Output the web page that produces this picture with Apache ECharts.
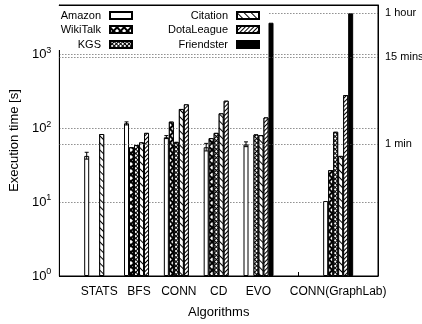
<!DOCTYPE html>
<html>
<head>
<meta charset="utf-8">
<script src="https://cdn.jsdelivr.net/npm/echarts@6/dist/echarts.min.js"></script>
<style>
  html, body { margin: 0; padding: 0; background: #fff; }
  #chart { width: 422px; height: 324px; }
</style>
</head>
<body>
<div id="chart"></div>
<script>
// categories (the blank one is the empty slot before GraphLab)
const algorithms = ['STATS', 'BFS', 'CONN', 'CD', 'EVO', '', 'CONN(GraphLab)'];

// execution time in seconds, per dataset
const amazon     = [42, 116, 75, 55, 60, null, 10.3];
const wikiTalk   = [null, 55, 122, 73, null, null, 27];
const kgs        = [null, 59, 65, 86, 82, null, 89];
const citation   = [83, 64, 181, 158, 80, null, 42];
const dotaLeague = [null, 86, 209, 234, 139, null, 279];
const friendster = [null, null, null, null, 2650, null, 3550];

// error bars for Amazon (low / high)
const amazonLow  = [38, 110, 72, 49, 56, null, null];
const amazonHigh = [47, 121, 79, 62, 65, null, null];

// right-hand reference lines
const timeMarks  = [60, 900, 3600];
const timeLabels = ['1 min', '15 mins', '1 hour'];

const yMin = 1;
const yMax = 4600;

const chart = echarts.init(document.getElementById('chart'));

// pad one empty slot on each side so ticks sit 40px apart across the frame
const cats = [''].concat(algorithms, ['']);
const pad = arr => [null].concat(arr, [null]);

const FONT = 'Liberation Sans, Arial, sans-serif';
const BAR_W = 5;

const gridDecal = (cell, line) => ({
    symbol: 'rect',
    color: '#000',
    backgroundColor: '#fff',
    rotation: Math.PI / 4,
    dashArrayX: [[cell, 0], [line, cell - line]],
    dashArrayY: [line, 0, cell - line, 0]
});

const lineDecal = (gap, width, rot) => ({
    symbol: 'rect',
    color: '#000',
    backgroundColor: '#fff',
    rotation: rot,
    dashArrayX: [1, 0],
    dashArrayY: [width, gap]
});

const seriesDefs = [
    { name: 'Amazon', data: amazon, decal: null, color: '#fff' },
    { name: 'WikiTalk', data: wikiTalk, decal: gridDecal(5, 2), color: '#fff' },
    { name: 'KGS', data: kgs, decal: gridDecal(3, 1), color: '#fff' },
    { name: 'Citation', data: citation, decal: lineDecal(4, 1, Math.PI / 4), color: '#fff' },
    { name: 'DotaLeague', data: dotaLeague, decal: lineDecal(2, 1, -Math.PI / 4), color: '#fff' },
    { name: 'Friendster', data: friendster, decal: null, color: '#000' }
];

const series = seriesDefs.map((s, i) => {
    const item = {
        name: s.name,
        type: 'bar',
        data: pad(s.data),
        barWidth: BAR_W,
        barGap: 0,
        itemStyle: {
            color: s.color,
            borderColor: '#000',
            borderWidth: 1
        },
        emphasis: { disabled: true },
        silent: true
    };
    if (s.decal) item.itemStyle.decal = s.decal;
    if (i === 0) {
        item.markLine = {
            silent: true,
            symbol: 'none',
            animation: false,
            lineStyle: { color: '#555', type: [1, 2], width: 1 },
            label: {
                position: 'end',
                distance: 7,
                formatter: '{b}',
                color: '#000',
                fontSize: 11,
                fontFamily: FONT
            },
            data: timeMarks.map((v, k) => ({ yAxis: v, name: timeLabels[k] }))
        };
    }
    return item;
});

// Amazon error bars
const errData = [];
amazonLow.forEach((lo, k) => {
    if (lo != null) errData.push([k + 1, lo, amazonHigh[k]]);
});
series.push({
    type: 'custom',
    silent: true,
    z: 5,
    data: errData,
    renderItem: function (params, api) {
        const lo = api.coord([api.value(0), api.value(1)]);
        const hi = api.coord([api.value(0), api.value(2)]);
        const x = lo[0] - 2.5 * BAR_W;
        const style = { stroke: '#000', lineWidth: 1 };
        return {
            type: 'group',
            children: [
                { type: 'line', shape: { x1: x, y1: lo[1], x2: x, y2: hi[1] }, style: style },
                { type: 'line', shape: { x1: x - 2, y1: hi[1], x2: x + 2, y2: hi[1] }, style: style },
                { type: 'line', shape: { x1: x - 2, y1: lo[1], x2: x + 2, y2: lo[1] }, style: style }
            ]
        };
    }
});

const legendSpots = [[133, 15], [133, 29], [133, 44], [260, 15], [260, 29], [260, 44]];
const legends = seriesDefs.map((s, i) => ({
    data: [s.name],
    right: 422 - legendSpots[i][0],
    top: legendSpots[i][1] - 5,
    align: 'right',
    icon: 'rect',
    itemWidth: 22,
    itemHeight: 7,
    itemGap: 0,
    padding: 0,
    selectedMode: false,
    z: 110,
    textStyle: { fontSize: 11, color: '#000', fontFamily: FONT, padding: [0, 4, 0, 0] }
}));

const isPow10 = v => {
    const e = Math.round(Math.log10(v));
    return Math.abs(Math.pow(10, e) - v) < 1e-6 * v;
};

const option = {
    animation: false,
    backgroundColor: '#fff',
    textStyle: { fontFamily: FONT },
    grid: {
        left: 57,
        right: 44,
        top: 5,
        bottom: 48,
        show: true,
        borderColor: '#000',
        borderWidth: 1,
        backgroundColor: 'transparent'
    },
    legend: legends,
    graphic: [{
        type: 'rect',
        left: 58,
        top: 6,
        z: 100,
        shape: { width: 210, height: 44 },
        style: { fill: '#fff' }
    }],
    xAxis: [{
        type: 'category',
        data: cats,
        boundaryGap: false,
        name: 'Algorithms',
        nameLocation: 'middle',
        nameGap: 30,
        nameTextStyle: { fontSize: 13, color: '#000', fontFamily: FONT },
        axisLine: { lineStyle: { color: '#000', width: 1 } },
        axisTick: { inside: true, length: 4, lineStyle: { color: '#000' } },
        axisLabel: { interval: 0, margin: 10, fontSize: 12, color: '#000', fontFamily: FONT },
        splitLine: { show: false }
    }, {
        type: 'category',
        data: cats,
        boundaryGap: false,
        position: 'top',
        axisLine: { lineStyle: { color: '#000', width: 1 } },
        axisTick: { inside: true, length: 4, lineStyle: { color: '#000' } },
        axisLabel: { show: false },
        splitLine: { show: false }
    }],
    yAxis: [{
        type: 'log',
        logBase: 10,
        min: yMin,
        max: yMax,
        name: 'Execution time [s]',
        nameLocation: 'middle',
        nameGap: 36,
        nameTextStyle: { fontSize: 13, color: '#000', fontFamily: FONT },
        axisLine: { show: true, lineStyle: { color: '#000', width: 1 } },
        axisTick: { inside: true, length: 4, lineStyle: { color: '#000' } },
        axisLabel: {
            margin: 8,
            color: '#000',
            formatter: function (v) {
                if (!isPow10(v)) return '';
                return '{b|10}{s|' + Math.round(Math.log10(v)) + '}';
            },
            rich: {
                b: { fontSize: 13, color: '#000', fontFamily: FONT },
                s: { fontSize: 9, color: '#000', fontFamily: FONT, padding: [0, 0, 8, 0] }
            }
        },
        splitLine: { show: true, lineStyle: { color: '#555', type: [1, 2], width: 1 } }
    }, {
        type: 'log',
        logBase: 10,
        min: yMin,
        max: yMax,
        position: 'right',
        axisLine: { show: true, lineStyle: { color: '#000', width: 1 } },
        axisTick: { inside: true, length: 4, lineStyle: { color: '#000' } },
        axisLabel: { show: false },
        splitLine: { show: false }
    }],
    series: series
};

chart.setOption(option);
</script>
</body>
</html>
